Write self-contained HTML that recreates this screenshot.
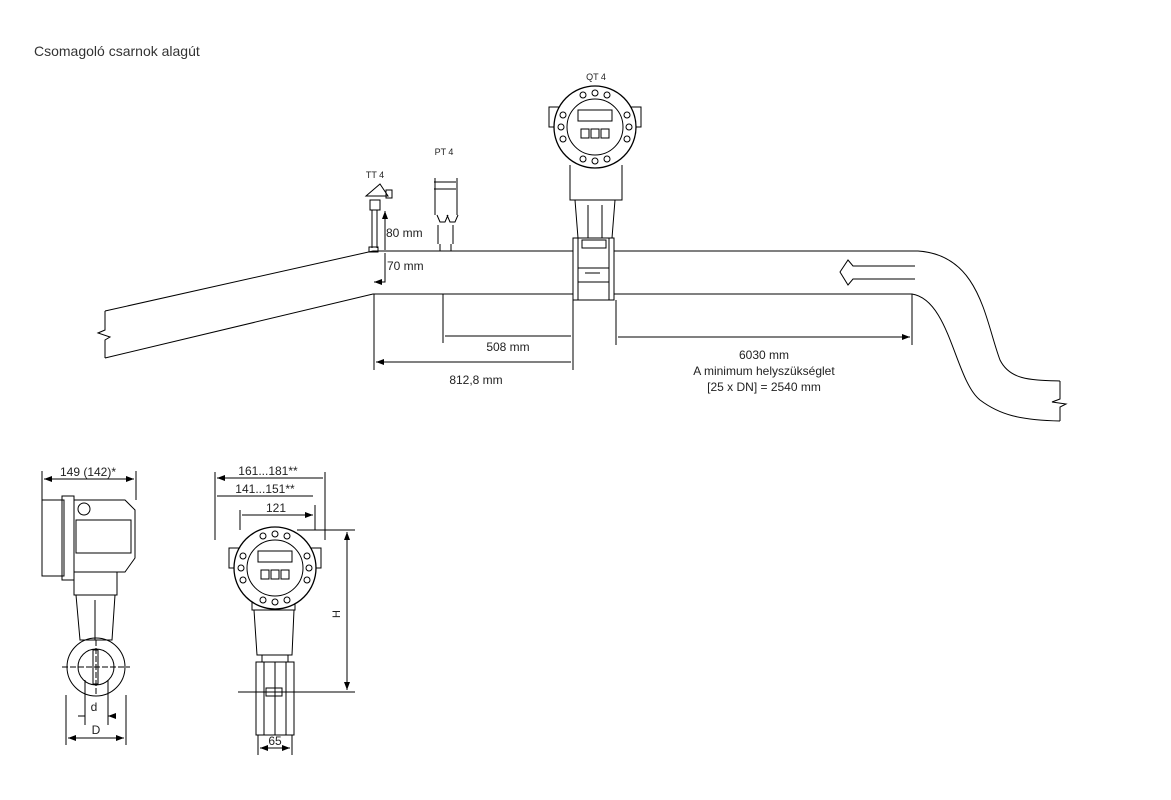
<!DOCTYPE html>
<html><head><meta charset="utf-8"><style>
html,body{margin:0;padding:0;background:#fff;}
svg{display:block;font-family:"Liberation Sans",sans-serif;}
</style></head><body>
<svg width="1171" height="800" viewBox="0 0 1171 800" xmlns="http://www.w3.org/2000/svg">
<defs>
<marker id="a" markerWidth="8" markerHeight="6" refX="8" refY="3" orient="auto-start-reverse"><path d="M0,0 L8,3 L0,6z" fill="#000"/></marker>
<g id="head">
 <rect x="-46" y="-20" width="10" height="20" fill="#fff" stroke="#000"/>
 <rect x="36" y="-20" width="10" height="20" fill="#fff" stroke="#000"/>
 <circle r="41" fill="#fff" stroke="#000" stroke-width="1.3"/>
 <circle r="28" fill="none" stroke="#000"/>
 <rect x="-17" y="-17" width="34" height="11" fill="none" stroke="#000"/>
 <rect x="-14" y="2" width="8" height="9" fill="none" stroke="#000"/>
 <rect x="-4" y="2" width="8" height="9" fill="none" stroke="#000"/>
 <rect x="6" y="2" width="8" height="9" fill="none" stroke="#000"/>
 <g fill="none" stroke="#000"><circle cx="0" cy="-34" r="3"/><circle cx="-12" cy="-32" r="3"/><circle cx="12" cy="-32" r="3"/><circle cx="0" cy="34" r="3"/><circle cx="-12" cy="32" r="3"/><circle cx="12" cy="32" r="3"/><circle cx="-34" cy="0" r="3"/><circle cx="-32" cy="-12" r="3"/><circle cx="-32" cy="12" r="3"/><circle cx="34" cy="0" r="3"/><circle cx="32" cy="-12" r="3"/><circle cx="32" cy="12" r="3"/></g>
</g>
</defs>
<text x="34" y="56" font-size="14" fill="#333">Csomagoló csarnok alagút</text>

<g fill="none" stroke="#000" stroke-width="1">
 <path d="M105,311 L373,251 L573,251 M614,251 L918,251 C980,255 985,320 1000,360 C1010,380 1030,380 1060,381"/>
 <path d="M105,358 L373,294 L573,294 M614,294 L912,294 C950,300 955,380 980,400 C1000,415 1020,420 1060,421"/>
 <path d="M105,311 L105,330 L98,333 L110,337 L105,340 L105,358"/>
 <path d="M1060,381 L1060,399 L1052,402 L1066,404 L1060,407 L1060,421"/>
 <path d="M915,266 L853,266 L848,260 L840,272 L848,285 L853,279 L915,279"/>
 <path d="M374,294 L374,370 M443,294 L443,343 M573,300 L573,370 M616,300 L616,345 M912,294 L912,345"/>
 <path d="M376,362 L571,362 M445,336 L571,336 M618,337 L910,337" marker-start="url(#a)" marker-end="url(#a)"/>
 <path d="M372,210 L372,248 M377,210 L377,248 M366,196 L380,184 L388,196 Z M370,200 L380,200 L380,210 L370,210 Z M386,190 L392,190 L392,198 L386,198Z M369,247 L378,247 L378,252 L369,252Z"/>
 <path d="M385,211 L385,250 M385,253 L385,282 L374,282" marker-start="url(#a)" marker-end="url(#a)"/>
 <path d="M435,178 L435,215 M457,178 L457,215 M434,182 L456,182 M434,189 L456,189 M437,215 L440,222 L445,222 L448,215 M447,215 L450,222 L455,222 L458,215 M438,225 L438,244 M453,225 L453,244 M440,244 L440,251 M451,244 L451,251"/>
 <path d="M570,165 L570,200 L622,200 L622,165 M575,200 L578,238 L612,238 L615,200 M588,205 L588,238 M602,205 L602,238"/>
 <rect x="573" y="238" width="41" height="62" fill="#fff"/>
 <path d="M578,238 L578,300 M609,238 L609,300 M578,268 L609,268 M578,282 L609,282 M585,273 L600,273" />
 <rect x="582" y="240" width="24" height="8"/>
</g>
<use href="#head" x="595" y="127"/>
<g font-size="12" fill="#222">
 <text x="375" y="178" font-size="9" text-anchor="middle">TT 4</text>
 <text x="444" y="155" font-size="9" text-anchor="middle">PT 4</text>
 <text x="596" y="80" font-size="9" text-anchor="middle">QT 4</text>
 <text x="386" y="237">80 mm</text>
 <text x="387" y="270">70 mm</text>
 <text x="508" y="351" text-anchor="middle">508 mm</text>
 <text x="476" y="384" text-anchor="middle">812,8 mm</text>
 <text x="764" y="359" text-anchor="middle">6030 mm</text>
 <text x="764" y="375" text-anchor="middle">A minimum helyszükséglet</text>
 <text x="764" y="391" text-anchor="middle">[25 x DN] = 2540 mm</text>
</g>

<g fill="none" stroke="#000">
 <path d="M42,471 L42,505 M136,471 L136,500" />
 <path d="M44,479 L134,479" marker-start="url(#a)" marker-end="url(#a)"/>
 <rect x="42" y="500" width="22" height="76"/>
 <rect x="62" y="496" width="12" height="84"/>
 <path d="M74,500 L125,500 L135,510 L135,558 L125,572 L74,572"/>
 <rect x="76" y="520" width="55" height="33"/>
 <circle cx="84" cy="509" r="6"/>
 <path d="M74,572 L74,595 L117,595 L117,572 M76,595 L80,640 L112,640 L115,595 M95,600 L95,640"/>
 <circle cx="96" cy="667" r="29"/>
 <circle cx="96" cy="667" r="18"/>
 <path d="M62,667 L130,667 M96,640 L96,695" stroke-dasharray="6,2"/>
 <rect x="93" y="650" width="5" height="34"/>
 <path d="M66,695 L66,745 M126,695 L126,745 M85,680 L85,725 M108,680 L108,725"/>
 <path d="M68,738 L124,738" marker-start="url(#a)" marker-end="url(#a)"/>
 <path d="M78,716 L85,716 M115,716 L108,716" marker-end="url(#a)"/>
</g>
<g font-size="12" fill="#222" text-anchor="middle">
 <text x="88" y="476">149 (142)*</text>
 <text x="94" y="711">d</text>
 <text x="96" y="734">D</text>
</g>

<g fill="none" stroke="#000">
 <path d="M215,472 L215,540 M325,472 L325,540 M240,510 L240,530 M315,505 L315,530"/>
 <path d="M217,478 L323,478 M217,496 L313,496 M242,515 L313,515" marker-start="url(#a)" marker-end="url(#a)"/>
 <path d="M252,590 L252,610 L295,610 L295,590 M254,610 L257,655 L292,655 L294,610"/>
 <rect x="256" y="662" width="38" height="73"/>
 <path d="M264,662 L264,735 M286,662 L286,735 M262,655 L262,662 M288,655 L288,662 M266,692 L284,692 M275,662 L275,735" />
 <rect x="266" y="688" width="16" height="8"/>
 <path d="M297,530 L355,530 M238,692 L355,692"/>
 <path d="M347,532 L347,690" marker-start="url(#a)" marker-end="url(#a)"/>
 <path d="M258,735 L258,755 M292,735 L292,755"/>
 <path d="M260,748 L290,748" marker-start="url(#a)" marker-end="url(#a)"/>
</g>
<use href="#head" x="275" y="568"/>
<g font-size="12" fill="#222" text-anchor="middle">
 <text x="268" y="475">161...181**</text>
 <text x="265" y="493">141...151**</text>
 <text x="276" y="512">121</text>
 <text x="275" y="745">65</text>
 <text x="340" y="614" transform="rotate(-90 340 614)" font-size="11">H</text>
</g>
</svg>
</body></html>
